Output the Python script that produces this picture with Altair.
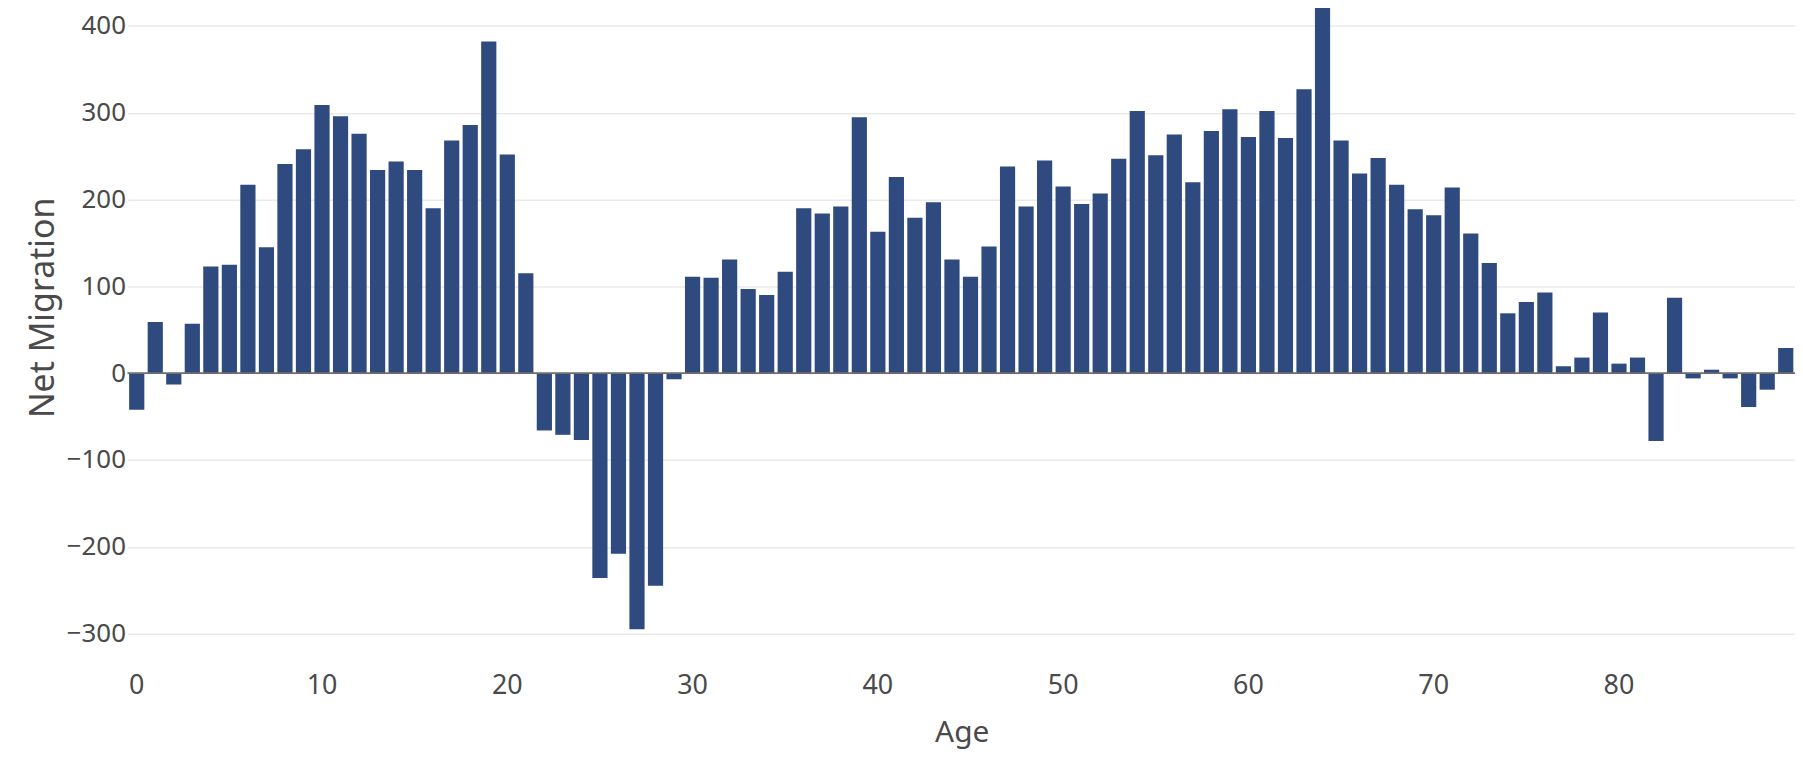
import altair as alt
import pandas as pd

ages = list(range(90))
net_migration = [
    -42, 59, -13, 57, 123, 125, 217, 145, 241, 258,
    309, 296, 276, 234, 244, 234, 190, 268, 286, 382,
    252, 115, -66, -71, -77, -236, -208, -295, -245, -7,
    111, 110, 131, 97, 90, 117, 190, 184, 192, 295,
    163, 226, 179, 197, 131, 111, 146, 238, 192, 245,
    215, 195, 207, 247, 302, 251, 275, 220, 279, 304,
    272, 302, 271, 327, 470, 268, 230, 248, 217, 189,
    182, 214, 161, 127, 69, 82, 93, 8, 18, 70,
    11, 18, -78, 87, -6, 4, -6, -39, -19, 29,
]
x_tick_values = [0, 10, 20, 30, 40, 50, 60, 70, 80]
y_tick_values = [-300, -200, -100, 0, 100, 200, 300, 400]
zero_line = [0]

df = pd.DataFrame({"Age": ages, "Net Migration": net_migration})
zdf = pd.DataFrame({"Net Migration": zero_line})

FONT = "Noto Sans"
TXT = "#4a4a4a"
Y_DOMAIN = [-329, 428]

y_scale = alt.Scale(domain=Y_DOMAIN, nice=False, zero=False)

y_axis = alt.Axis(
    values=y_tick_values,
    ticks=False,
    tickSize=0,
    domain=False,
    grid=True,
    gridColor="#EAEAEA",
    gridWidth=1.5,
    labelFont=FONT,
    labelFontSize=26,
    labelColor=TXT,
    labelPadding=2,
    title="Net Migration",
    titleFont=FONT,
    titleFontSize=34,
    titleFontWeight="normal",
    titleColor=TXT,
    titleX=-74,
    titleY=307,
    titleBaseline="alphabetic",
    titleAlign="center",
    titleAngle=270,
)

bars = alt.Chart(df).mark_bar(color="#2E4A7E", clip=True).encode(
    x=alt.X(
        "Age:O",
        scale=alt.Scale(paddingInner=0.18),
        axis=alt.Axis(
            values=x_tick_values,
            labelAngle=0,
            ticks=False,
            tickSize=0,
            domain=False,
            grid=False,
            labelFont=FONT,
            labelFontSize=27,
            labelColor=TXT,
            labelBaseline="alphabetic",
            labelPadding=35,
            title="Age",
            titleFont=FONT,
            titleFontSize=30,
            titleFontWeight="normal",
            titleColor=TXT,
            titleX=838,
            titleY=83,
            titleBaseline="alphabetic",
            titleAlign="center",
        ),
    ),
    y=alt.Y("Net Migration:Q", scale=y_scale, axis=y_axis),
)

zero = alt.Chart(zdf).mark_rule(color="#6E6E6E", strokeWidth=1.8).encode(
    y=alt.Y("Net Migration:Q", scale=y_scale, axis=y_axis)
)

chart = (
    alt.layer(bars, zero)
    .properties(
        width=1675,
        height=660,
        padding={"left": 120, "top": -8, "right": 0, "bottom": 92},
        autosize=alt.AutoSizeParams(type="none"),
        background="white",
    )
    .configure_view(stroke=None)
)

chart.save("out.html", embed_options={"renderer": "svg", "actions": False})
